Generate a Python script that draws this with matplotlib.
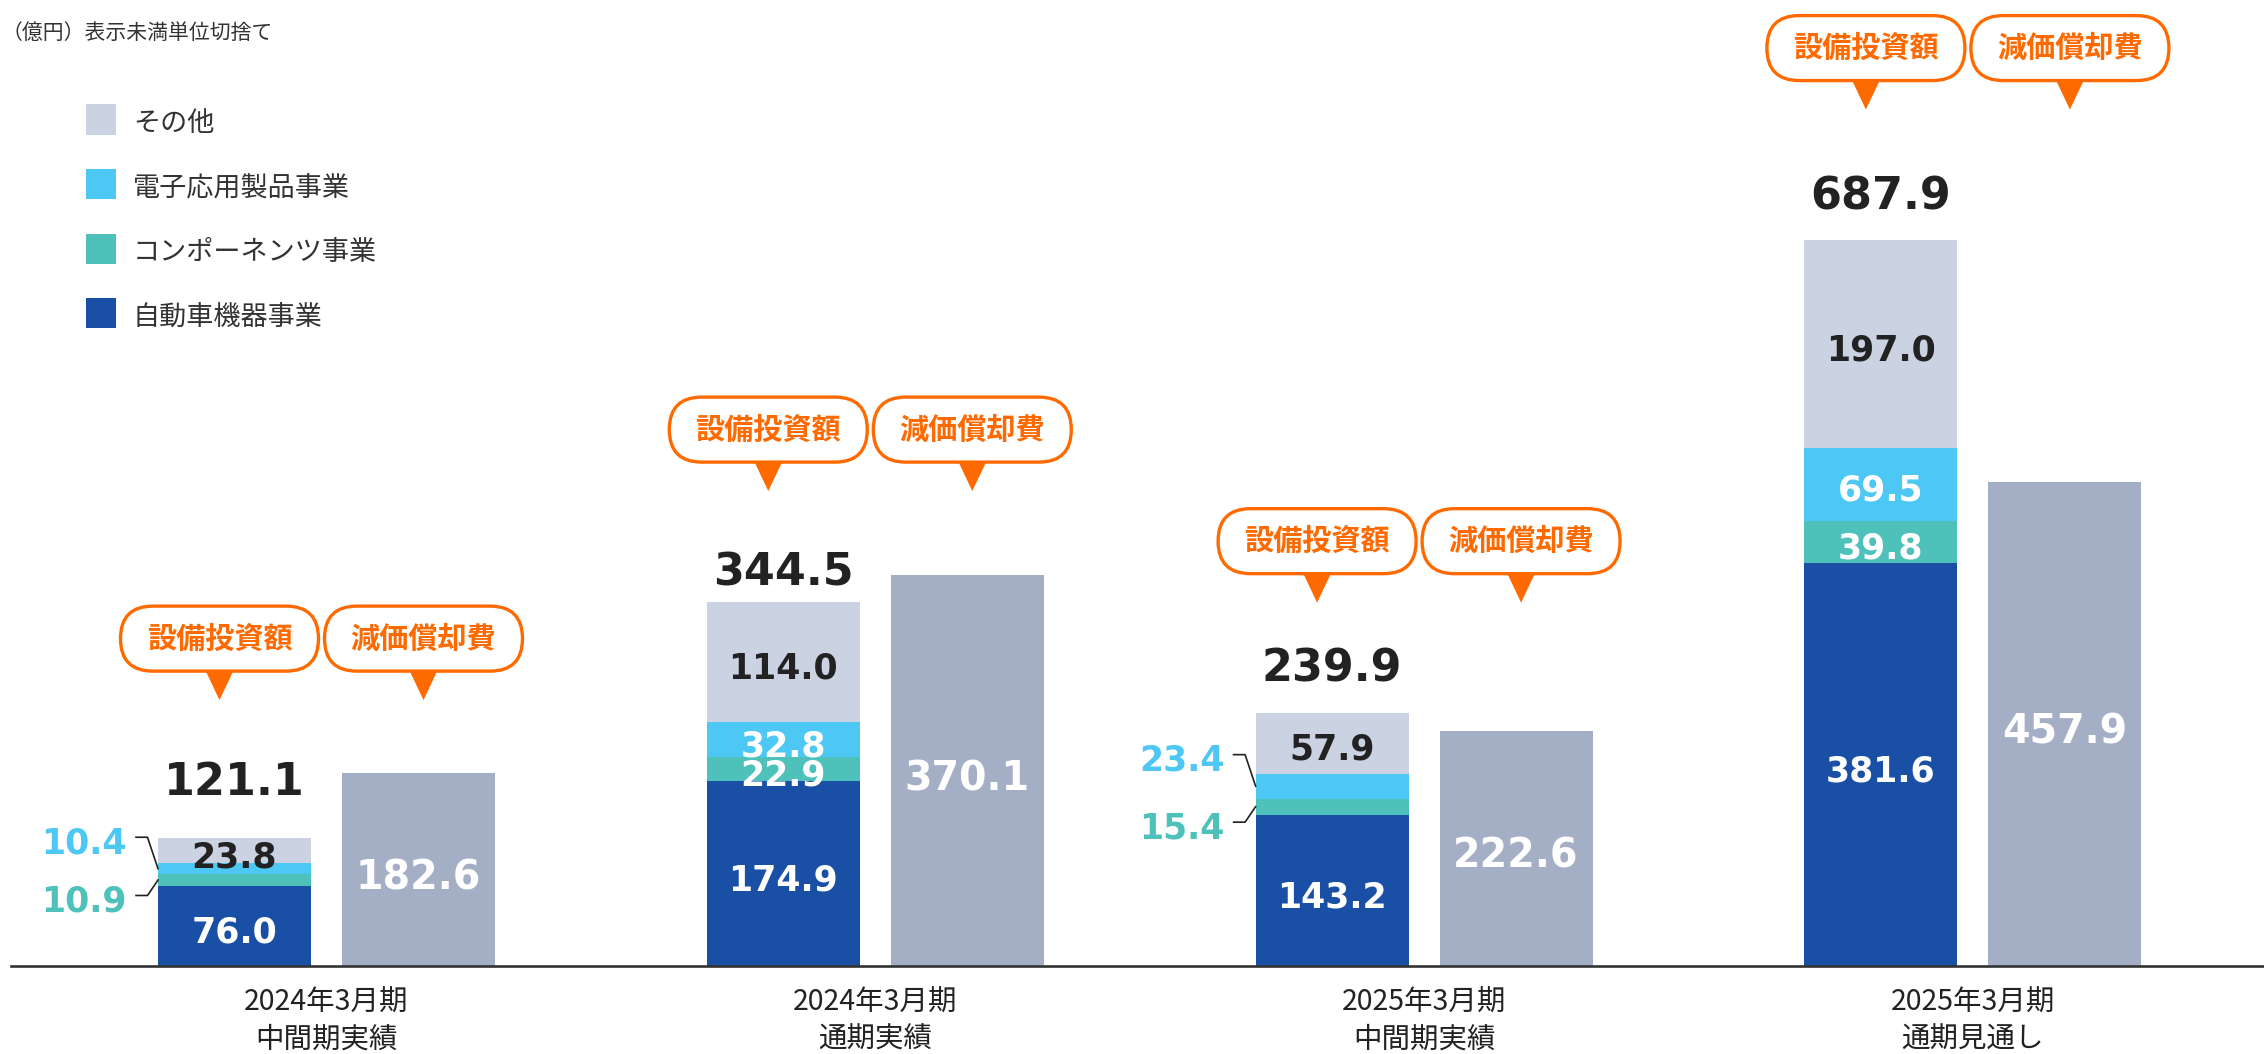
import matplotlib
matplotlib.use('Agg')
import matplotlib.pyplot as plt
import matplotlib.transforms as mtransforms
from matplotlib.patches import FancyBboxPatch, Polygon, Rectangle
import numpy as np

# ---- data (億円) ----
periods = ['2024年3月期', '2024年3月期', '2025年3月期', '2025年3月期']
period_types = ['中間期実績', '通期実績', '中間期実績', '通期見通し']

segment_names = ['自動車機器事業', 'コンポーネンツ事業', '電子応用製品事業', 'その他']
automotive = [76.0, 174.9, 143.2, 381.6]
components = [10.9, 22.9, 15.4, 39.8]
electronics = [10.4, 32.8, 23.4, 69.5]
others = [23.8, 114.0, 57.9, 197.0]
capex_total = [121.1, 344.5, 239.9, 687.9]
depreciation = [182.6, 370.1, 222.6, 457.9]

bubble_labels = ['設備投資額', '減価償却費']
note = '（億円）表示未満単位切捨て'

# ---- style / layout ----
seg_colors = ['#1A4FA6', '#4EC1BA', '#4DC8F4', '#CBD2E1']
dep_color = '#A4AFC6'
orange = '#FF6A00'
dark = '#222222'
jp = 'Noto Sans CJK JP'
num = 'DejaVu Sans'

W, H, DPI = 2264, 1054, 100
px_group = 548.8      # pixels between group centres
px_unit = 1.056       # pixels per 億円
x0_px, base_px = 326.5, 88

outside_small = [True, False, True, False]   # small segments labelled at the left
total_gap = [43, 17, 31, 30]                 # px between bar top and total label
bubble_tip = [138, 111, 110, 130]            # px between bar top and bubble tip

fig = plt.figure(figsize=(W / DPI, H / DPI), dpi=DPI)
ax = fig.add_axes([0, 0, 1, 1])
ax.axis('off')
ax.set_xlim(-x0_px / px_group, (W - x0_px) / px_group)
ax.set_ylim(-base_px / px_unit, (H - base_px) / px_unit)

x = np.arange(len(periods))
bar_w = 153 / px_group
off = 92 / px_group
xs, xd = x - off, x + off

stack = [automotive, components, electronics, others]
bottom = np.zeros(len(x))
bottoms = []
for vals, c in zip(stack, seg_colors):
    ax.bar(xs, vals, bar_w, bottom=bottom, color=c, lw=0, zorder=2)
    bottoms.append(bottom.copy())
    bottom += np.array(vals)
ax.bar(xd, depreciation, bar_w, color=dep_color, lw=0, zorder=2)
ax.axhline(0, xmin=11 / W, color='#333333', lw=1.9, zorder=3)


def px_trans(xv, yv):
    # shape coordinates in inches (= px/100) around a data point
    return fig.dpi_scale_trans + mtransforms.ScaledTranslation(xv, yv, ax.transData)


def num_label(xv, yv, s, size, color, dx=0, dy=0, ha='center'):
    # visually centre digits on (xv, yv) + pixel offset
    cap = 0.73 * size * DPI / 72
    ax.annotate(s, xy=(xv, yv), xytext=(dx, dy - cap / 2), textcoords='offset pixels',
                ha=ha, va='baseline', fontsize=size, fontweight='bold',
                color=color, family=num, zorder=5)


seg_size = 25
for i in range(len(x)):
    for k, vals in enumerate(stack):
        v = vals[i]
        mid = bottoms[k][i] + v / 2
        if k in (1, 2) and outside_small[i]:
            dy = 28 if k == 2 else -19
            num_label(xs[i] - bar_w / 2, mid, f'{v:.1f}', seg_size, seg_colors[k], dx=-31, dy=dy, ha='right')
            ly = (dy + 3.5) / 100
            ax.plot([-0.22, -0.105, 0], [ly, ly, 0], color=dark, lw=1.2,
                    transform=px_trans(xs[i] - bar_w / 2, mid), zorder=4)
        else:
            col = dark if k == 3 else 'white'
            num_label(xs[i], mid, f'{v:.1f}', seg_size, col, dy=-4)
    num_label(xd[i], depreciation[i] / 2, f'{depreciation[i]:.1f}', 28.5, 'white', dy=-5)

    # total
    ax.annotate(f'{capex_total[i]:.1f}', xy=(xs[i], bottom[i]), xytext=(0, total_gap[i]),
                textcoords='offset pixels', ha='center', va='baseline', fontsize=32,
                fontweight='bold', color=dark, family=num)

    # callout bubbles
    for dx_px, lab in zip([-107, 97], bubble_labels):
        xb = x[i] + dx_px / px_group
        tr = px_trans(xb, bottom[i])
        tip = bubble_tip[i] / 100
        cy = tip + 0.615
        ax.add_patch(FancyBboxPatch((-0.99, cy - 0.325), 1.98, 0.65,
                                    boxstyle='round,pad=0,rounding_size=0.325',
                                    fc='white', ec=orange, lw=2.4, transform=tr, zorder=6))
        ax.add_patch(Polygon([(-0.135, cy - 0.33), (0.135, cy - 0.33), (0, tip)],
                             closed=True, fc=orange, ec='none', transform=tr, zorder=6))
        ax.annotate(lab, xy=(xb, bottom[i]), xytext=(0, bubble_tip[i] + 61.5),
                    textcoords='offset pixels', ha='center', va='center', fontsize=21,
                    fontweight='bold', color=orange, family=jp, zorder=7)

    # category labels
    ax.annotate(periods[i], xy=(x[i], 0), xytext=(0, -37), textcoords='offset pixels',
                ha='center', va='center', fontsize=20.5, color=dark, family=jp)
    ax.annotate(period_types[i], xy=(x[i], 0), xytext=(0, -74), textcoords='offset pixels',
                ha='center', va='center', fontsize=20.5, color=dark, family=jp)

# legend (top to bottom: reverse stacking order)
for k, (name, c) in enumerate(zip(segment_names[::-1], seg_colors[::-1])):
    yc = 119.5 + 64.5 * k
    fig.patches.append(Rectangle((0.86, (H - yc - 15) / 100), 0.30, 0.30, fc=c, ec='none',
                                 transform=fig.dpi_scale_trans, figure=fig))
    fig.text(133 / W, 1 - (yc + 4) / H, name, ha='left', va='center', fontsize=19.5,
             color='#333333', family=jp)

fig.text(2 / W, 1 - 33 / H, note, ha='left', va='center', fontsize=15, color='#333333', family=jp)

fig.savefig('out.png', dpi=DPI)
